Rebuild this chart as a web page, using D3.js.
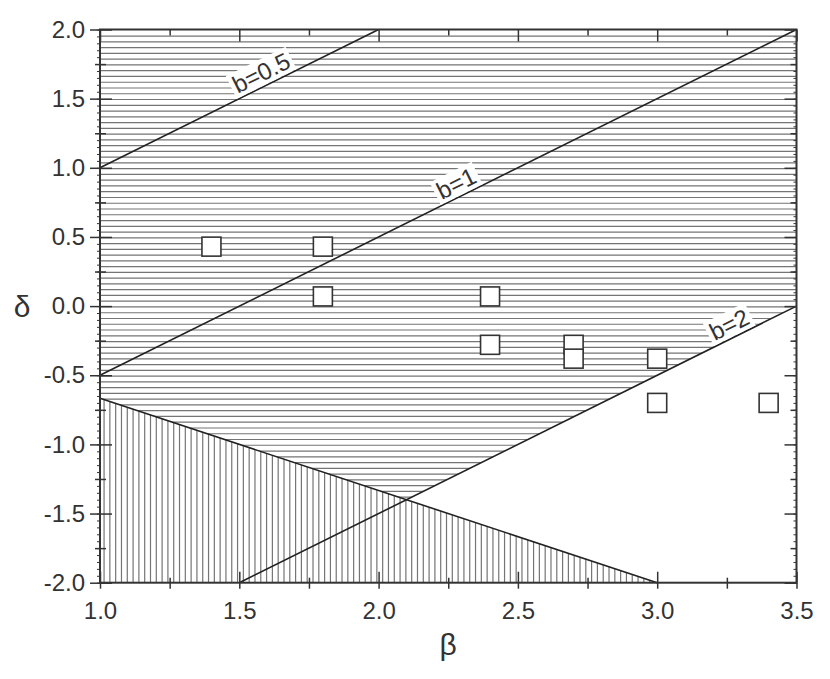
<!DOCTYPE html>
<html>
<head>
  <meta charset="utf-8">
  <style>
  * { margin: 0; padding: 0; }
  body { background: #fff; }
  svg text { font-family: "Liberation Sans", Arial, sans-serif; fill: #333; }
  </style>
</head>
<body>
  <script src="https://cdn.jsdelivr.net/npm/d3@7"></script>
  <script>
  //Size of page and plot box
  var w = 830;
  var h = 679;
  var box = { l: 100, r: 796.5, t: 29.5, b: 582.7 };

  //Measured points (open squares)
  var pointBeta  = [1.4, 1.8, 1.8, 2.4, 2.4, 2.7, 2.7, 3.0, 3.0, 3.4];
  var pointDelta = [0.43, 0.43, 0.07, 0.07, -0.28, -0.28, -0.38, -0.38, -0.7, -0.7];

  //Lines of constant b: [start, end]
  var bLabels = ["b=0.5", "b=1", "b=2"];
  var bBeta  = [[1.0, 2.0], [1.0, 3.5], [1.5, 3.5]];
  var bDelta = [[1.0, 2.0], [-0.5, 2.0], [-2.0, 0.0]];
  var bLabelBeta = [1.6, 2.3, 3.28];

  //Lower boundary line
  var edgeBeta  = [1.0, 3.0];
  var edgeDelta = [-2 / 3, -2.0];

  //Ticks
  var xTicks = [1.0, 1.5, 2.0, 2.5, 3.0, 3.5];
  var xMinor = [1.25, 1.75, 2.25, 2.75, 3.25];
  var yTicks = [2.0, 1.5, 1.0, 0.5, 0.0, -0.5, -1.0, -1.5, -2.0];
  var yMinor = [1.75, 1.25, 0.75, 0.25, -0.25, -0.75, -1.25, -1.75];
  var yTiny = d3.range(-40, 41).map(function(i) { return i * 0.05; });

  //Scales
  var x = d3.scaleLinear().domain([1.0, 3.5]).range([box.l, box.r]);
  var y = d3.scaleLinear().domain([-2.0, 2.0]).range([box.b, box.t]);

  var svg = d3.select("body")
    .append("svg")
    .attr("width", w)
    .attr("height", h);

  //Intersection of the b=2 line with the lower boundary
  function lineAt(bx, dy, beta) {
    return dy[0] + (beta - bx[0]) * (dy[1] - dy[0]) / (bx[1] - bx[0]);
  }
  var s1 = (bDelta[2][1] - bDelta[2][0]) / (bBeta[2][1] - bBeta[2][0]);
  var s2 = (edgeDelta[1] - edgeDelta[0]) / (edgeBeta[1] - edgeBeta[0]);
  var ix = (edgeDelta[0] - s2 * edgeBeta[0] - bDelta[2][0] + s1 * bBeta[2][0]) / (s1 - s2);
  var iy = lineAt(edgeBeta, edgeDelta, ix);

  var hRegion = [[1.0, 2.0], [3.5, 2.0], [bBeta[2][1], bDelta[2][1]], [ix, iy], [edgeBeta[0], edgeDelta[0]]];
  var vRegion = [[edgeBeta[0], edgeDelta[0]], [edgeBeta[1], edgeDelta[1]], [1.0, -2.0]];

  function polyPoints(p) {
    return p.map(function(d) { return x(d[0]) + "," + y(d[1]); }).join(" ");
  }

  var defs = svg.append("defs");
  defs.append("clipPath").attr("id", "clipH")
    .append("polygon").attr("points", polyPoints(hRegion));
  defs.append("clipPath").attr("id", "clipV")
    .append("polygon").attr("points", polyPoints(vRegion));

  //Horizontal hatching
  var hStep = 0.5 / 12;
  svg.append("g")
    .attr("clip-path", "url(#clipH)")
    .selectAll("line")
    .data(d3.range(2.0 - hStep * 1.15, -2.0, -hStep))
    .enter()
    .append("line")
    .attr("x1", box.l)
    .attr("x2", box.r)
    .attr("y1", function(d) { return y(d); })
    .attr("y2", function(d) { return y(d); })
    .attr("stroke", "#757575")
    .attr("stroke-width", 1.2);

  //Vertical hatching
  var vStep = 0.5 / 24;
  svg.append("g")
    .attr("clip-path", "url(#clipV)")
    .selectAll("line")
    .data(d3.range(1.0 + vStep * 0.7, 3.0, vStep))
    .enter()
    .append("line")
    .attr("y1", box.t)
    .attr("y2", box.b)
    .attr("x1", function(d) { return x(d); })
    .attr("x2", function(d) { return x(d); })
    .attr("stroke", "#757575")
    .attr("stroke-width", 1.2);

  //Boundary lines
  var lines = bBeta.map(function(b, i) { return [b, bDelta[i]]; });
  lines.push([edgeBeta, edgeDelta]);
  svg.append("g")
    .selectAll("line")
    .data(lines)
    .enter()
    .append("line")
    .attr("x1", function(d) { return x(d[0][0]); })
    .attr("y1", function(d) { return y(d[1][0]); })
    .attr("x2", function(d) { return x(d[0][1]); })
    .attr("y2", function(d) { return y(d[1][1]); })
    .attr("stroke", "#222")
    .attr("stroke-width", 1.6);

  //Line labels with white boxes
  bLabels.forEach(function(txt, i) {
    var b = bLabelBeta[i];
    var d = lineAt(bBeta[i], bDelta[i], b);
    var ang = Math.atan2(y(bDelta[i][1]) - y(bDelta[i][0]), x(bBeta[i][1]) - x(bBeta[i][0])) * 180 / Math.PI;
    var g = svg.append("g")
      .attr("transform", "translate(" + x(b) + "," + y(d) + ") rotate(" + ang + ")");
    var rect = g.append("rect").attr("fill", "#fff");
    var t = g.append("text")
      .attr("y", -5)
      .attr("text-anchor", "middle")
      .attr("font-size", 24)
      .text(txt);
    var bb = t.node().getBBox();
    rect.attr("x", bb.x - 3).attr("y", bb.y + 1).attr("width", bb.width + 6).attr("height", bb.height - 2);
  });

  //Squares
  var sq = 19;
  svg.append("g")
    .selectAll("rect")
    .data(pointBeta)
    .enter()
    .append("rect")
    .attr("x", function(d) { return x(d) - sq / 2; })
    .attr("y", function(d, i) { return y(pointDelta[i]) - sq / 2; })
    .attr("width", sq)
    .attr("height", sq)
    .attr("fill", "#fff")
    .attr("stroke", "#333")
    .attr("stroke-width", 1.6);

  //Axes
  function clean(g) {
    g.select(".domain").remove();
    g.selectAll(".tick line").attr("stroke", "#333").attr("stroke-width", 1.5);
  }
  function fmt(d) { return d.toFixed(1); }
  function noText() { return ""; }
  function bigText(g) {
    g.selectAll("text").attr("font-size", 24).attr("font-family", "Liberation Sans, Arial, sans-serif").attr("fill", "#333");
  }

  //Left: labels + outward majors
  svg.append("g")
    .attr("transform", "translate(" + box.l + ",0)")
    .call(d3.axisLeft(y).tickValues(yTicks).tickSize(10).tickPadding(5).tickFormat(fmt))
    .call(clean)
    .call(bigText);
  svg.append("g").attr("transform", "translate(" + box.l + ",0)")
    .call(d3.axisRight(y).tickValues(yTicks).tickSize(12).tickFormat(noText)).call(clean);
  svg.append("g").attr("transform", "translate(" + box.l + ",0)")
    .call(d3.axisLeft(y).tickValues(yMinor).tickSize(5).tickFormat(noText)).call(clean);
  svg.append("g").attr("transform", "translate(" + box.l + ",0)")
    .call(d3.axisRight(y).tickValues(yMinor).tickSize(6).tickFormat(noText)).call(clean);
  svg.append("g").attr("transform", "translate(" + box.l + ",0)")
    .call(d3.axisLeft(y).tickValues(yTiny).tickSize(3).tickFormat(noText))
    .call(clean)
    .call(function(g) { g.selectAll(".tick line").attr("stroke-width", 1); });

  //Right: inward ticks
  svg.append("g").attr("transform", "translate(" + box.r + ",0)")
    .call(d3.axisLeft(y).tickValues(yTicks).tickSize(12).tickFormat(noText)).call(clean);
  svg.append("g").attr("transform", "translate(" + box.r + ",0)")
    .call(d3.axisLeft(y).tickValues(yMinor).tickSize(6).tickFormat(noText)).call(clean);
  svg.append("g").attr("transform", "translate(" + box.r + ",0)")
    .call(d3.axisLeft(y).tickValues(yTiny).tickSize(3).tickFormat(noText))
    .call(clean)
    .call(function(g) { g.selectAll(".tick line").attr("stroke-width", 1); });

  //Bottom: labels + ticks
  svg.append("g")
    .attr("transform", "translate(0," + box.b + ")")
    .call(d3.axisBottom(x).tickValues(xTicks).tickSize(6).tickPadding(13).tickFormat(fmt))
    .call(clean)
    .call(bigText);
  svg.append("g").attr("transform", "translate(0," + box.b + ")")
    .call(d3.axisTop(x).tickValues(xTicks).tickSize(11).tickFormat(noText)).call(clean);
  svg.append("g").attr("transform", "translate(0," + box.b + ")")
    .call(d3.axisBottom(x).tickValues(xMinor).tickSize(6).tickFormat(noText)).call(clean);
  svg.append("g").attr("transform", "translate(0," + box.b + ")")
    .call(d3.axisTop(x).tickValues(xMinor).tickSize(5).tickFormat(noText)).call(clean);

  //Top: inward ticks
  svg.append("g").attr("transform", "translate(0," + box.t + ")")
    .call(d3.axisBottom(x).tickValues(xTicks).tickSize(12).tickFormat(noText)).call(clean);
  svg.append("g").attr("transform", "translate(0," + box.t + ")")
    .call(d3.axisBottom(x).tickValues(xMinor).tickSize(6).tickFormat(noText)).call(clean);

  //Frame
  svg.append("rect")
    .attr("x", box.l)
    .attr("y", box.t)
    .attr("width", box.r - box.l)
    .attr("height", box.b - box.t)
    .attr("fill", "none")
    .attr("stroke", "#333")
    .attr("stroke-width", 2);

  //Axis titles
  svg.append("text")
    .attr("x", (box.l + box.r) / 2)
    .attr("y", 655)
    .attr("text-anchor", "middle")
    .attr("font-size", 30)
    .text("β");
  svg.append("text")
    .attr("x", 22)
    .attr("y", 317)
    .attr("text-anchor", "middle")
    .attr("font-size", 30)
    .text("δ");
  </script>
</body>
</html>
